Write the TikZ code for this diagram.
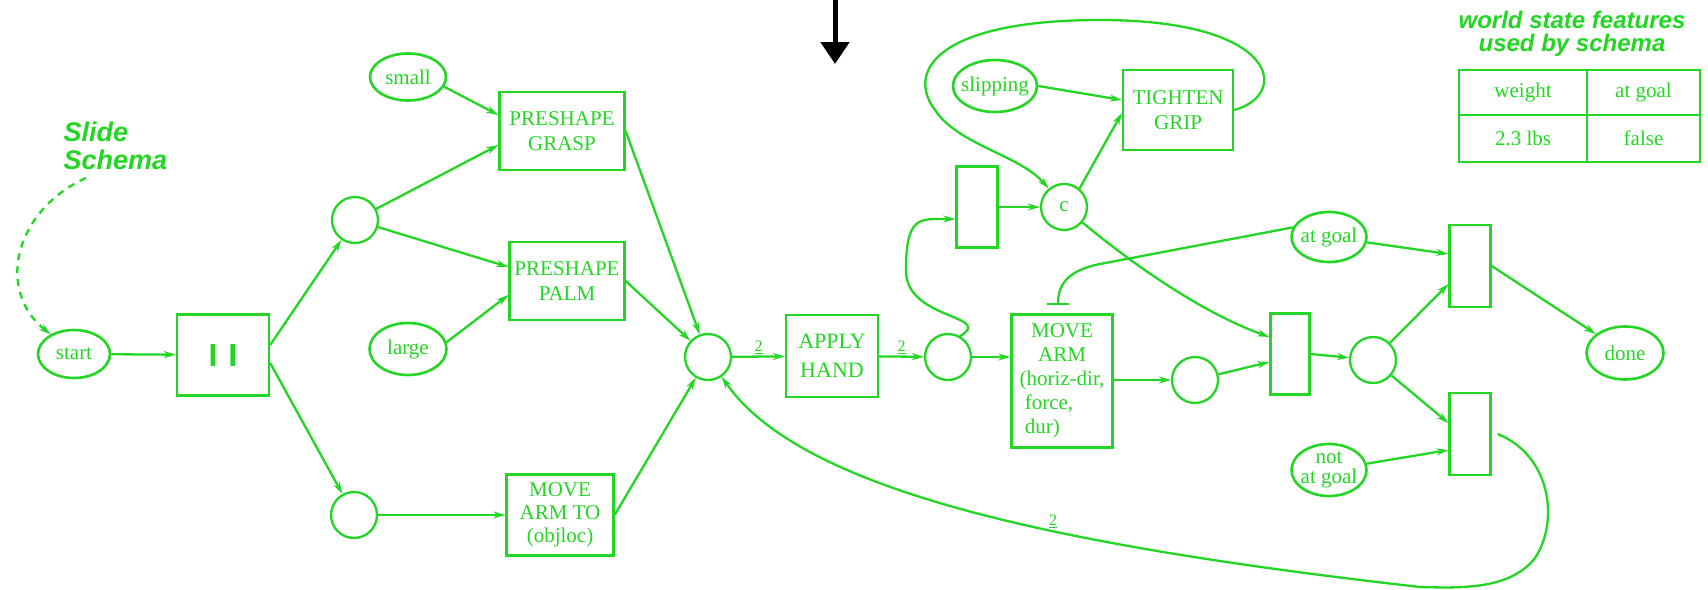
\documentclass[tikz,border=0pt]{standalone}
\usepackage{fontspec}
\setmainfont{Liberation Serif}
\newfontfamily\hel{Liberation Sans}
\usetikzlibrary{shapes.geometric,arrows.meta}
\definecolor{grn}{RGB}{36,214,36}
\begin{document}
\begin{tikzpicture}[x=1pt,y=-1pt,
  every node/.style={text=grn, font=\fontsize{21}{25}\selectfont},
  conn/.style={draw=grn, line width=2.3pt, -{Stealth[length=12pt,width=7pt]}},
  place/.style={circle, draw=grn, line width=2.3pt, minimum size=46pt, inner sep=0pt},
  trans/.style={rectangle, draw=grn, line width=2.3pt, minimum width=41pt, minimum height=81pt, inner sep=0pt},
  act/.style={rectangle, draw=grn, line width=2.3pt, align=center, inner sep=0pt},
  ell/.style={ellipse, draw=grn, line width=2.6pt, inner sep=0pt},
  cell/.style={rectangle, draw=grn, line width=2.3pt, inner sep=0pt},
  num/.style={font=\fontsize{16}{16}\selectfont, inner sep=2pt},
  title/.style={font=\hel\bfseries\itshape\fontsize{24}{23}\selectfont, align=center}
]
\fill[white] (0,0) rectangle (1708,589);
\useasboundingbox (0,0) rectangle (1708,589);

% top arrow
\coordinate (topin) at (835,0);
\coordinate (topout) at (835,64);
\draw[black, line width=5pt, -{Triangle[length=22pt,width=28pt]}] (topin) -- (topout);

% titles
\node[title, align=left, anchor=north west, font=\hel\bfseries\itshape\fontsize{27}{28}\selectfont] (slide) at (60,118) {Slide\\Schema};
\node[title] (wtitle) at (1572,34) {world state features\\used by schema};

% table
\node[cell, minimum width=128pt, minimum height=45pt] (c11) at (1523,92.5) {weight};
\node[cell, minimum width=113pt, minimum height=45pt] (c12) at (1643.5,92.5) {at goal};
\node[cell, minimum width=128pt, minimum height=47pt] (c21) at (1523,138.5) {2.3 lbs};
\node[cell, minimum width=113pt, minimum height=47pt] (c22) at (1643.5,138.5) {false};

% nodes
\node[ell, minimum width=72pt, minimum height=48pt, label=center:start] (start) at (74,354) {};
\node[act, minimum width=92pt, minimum height=81pt] (par) at (223,355) {\hel\bfseries\fontsize{32}{32}\selectfont I\hspace{11pt}I};
\node[place] (p1) at (355,220) {};
\node[place] (p2) at (354,515) {};
\node[ell, minimum width=76pt, minimum height=47pt, label=center:small] (small) at (408,77) {};
\node[ell, minimum width=77pt, minimum height=52pt, label=center:large] (large) at (408,349) {};
\node[act, minimum width=125pt, minimum height=78pt] (grasp) at (562,131) {PRESHAPE\\GRASP};
\node[act, minimum width=115pt, minimum height=78pt] (palm) at (567,281) {PRESHAPE\\PALM};
\node[act, minimum width=107pt, minimum height=81pt, font=\fontsize{21}{23}\selectfont] (moveto) at (560,515) {MOVE\\ARM TO\\(objloc)};
\node[place] (p3) at (708,357) {};
\node[act, minimum width=92pt, minimum height=82pt, font=\fontsize{22}{29}\selectfont] (apply) at (832,356) {APPLY\\HAND};
\node[place] (p4) at (948,357) {};
\node[act, minimum width=101pt, minimum height=133pt, font=\fontsize{21}{24}\selectfont] (movearm) at (1062,381)
  {\begin{tabular}{@{}l@{}}\multicolumn{1}{@{}c@{}}{MOVE}\\\multicolumn{1}{@{}c@{}}{ARM}\\(horiz-dir,\\\ force,\\\ dur)\end{tabular}};
\node[trans] (t1) at (977,207) {};
\node[place] (c) at (1064,207) {\raisebox{-7pt}{c}};
\node[ell, minimum width=84pt, minimum height=52pt, label=center:slipping] (slip) at (995,86) {};
\node[act, minimum width=110pt, minimum height=80pt] (tighten) at (1178,110) {TIGHTEN\\GRIP};
\node[place] (p5) at (1195,380) {};
\node[trans, minimum width=39pt] (t2) at (1290,354) {};
\node[place] (p6) at (1373,360) {};
\node[ell, minimum width=75pt, minimum height=50pt, label=center:at goal] (atgoal) at (1329,237) {};
\node[ell, minimum width=75pt, minimum height=52pt, label={[align=center, font=\fontsize{21}{20}\selectfont]center:not\\at goal}] (natgoal) at (1329,470) {};
\node[trans, minimum height=82pt] (t3) at (1470,266) {};
\node[trans, minimum height=82pt] (t4) at (1470,434) {};
\node[ell, minimum width=77pt, minimum height=53pt, label=center:done] (done) at (1625,353) {};

% connectors
\coordinate (dashs) at (86,178);
\draw[conn, dash pattern=on 7pt off 6pt] (dashs) .. controls (15,210) and (-5,290) .. (start.140);
\draw[conn] (start) -- (par);
\draw[conn] ([yshift=10pt]par.east) -- (p1);
\draw[conn] ([yshift=-8pt]par.east) -- (p2);
\draw[conn] (p1) -- ([yshift=-14pt]grasp.west);
\draw[conn] (p1) -- ([yshift=14pt]palm.west);
\draw[conn] (small.-15) -- ([yshift=16pt]grasp.west);
\draw[conn] (large.10) -- ([yshift=-14pt]palm.west);
\draw[conn] (p2) -- (moveto);
\draw[conn] (grasp.east) -- (p3);
\draw[conn] (palm.east) -- (p3);
\draw[conn] (moveto.east) -- (p3);
\draw[conn] (p3) -- node[num, above] {\underline{2}} (apply);
\draw[conn] (apply) -- node[num, above] {\underline{2}} (p4);
\draw[conn] (p4) -- (movearm.west |- p4);
\draw[conn] (p4.60) .. controls (995,315) and (905,320) .. (906,270) .. controls (906,215) and (920,219) .. ([yshift=-12pt]t1.west);
\draw[conn] (t1.east) -- (c);
\draw[conn] (slip.east) -- ([yshift=10pt]tighten.west);
\draw[conn] (c.50) -- ([yshift=-3pt]tighten.west);
\draw[conn] (tighten.east) .. controls (1290,95) and (1280,20) .. (1100,20) .. controls (940,20) and (905,70) .. (935,110) .. controls (958,145) and (1020,155) .. (c.130);
\draw[conn] (c.-40) .. controls (1130,262) and (1200,312) .. ([yshift=17pt]t2.west);
\draw[draw=grn, line width=2.3pt, -{Bar[width=22pt]}, shorten >=8pt] (atgoal.165) -- (1100,264) .. controls (1064,271) and (1058,288) .. ([xshift=-4pt]movearm.north);
\draw[conn] (movearm.east |- p5) -- (p5);
\draw[conn] (p5) -- ([yshift=-8pt]t2.west);
\draw[conn] (t2.east) -- (p6);
\draw[conn] (p6) -- ([yshift=-18pt]t3.west);
\draw[conn] (p6) -- ([yshift=11pt]t4.west);
\draw[conn] (atgoal) -- ([yshift=12pt]t3.west);
\draw[conn] (natgoal) -- ([yshift=-16pt]t4.west);
\draw[conn] (t3.east) -- (done);
\draw[conn] ([xshift=6pt]t4.east) .. controls (1550,455) and (1560,520) .. (1535,558) .. controls (1510,590) and (1460,588) .. (1420,587) .. controls (1050,545) and (800,490) .. node[num, pos=0.38, above] {\underline{2}} (p3);
\end{tikzpicture}
\end{document}
